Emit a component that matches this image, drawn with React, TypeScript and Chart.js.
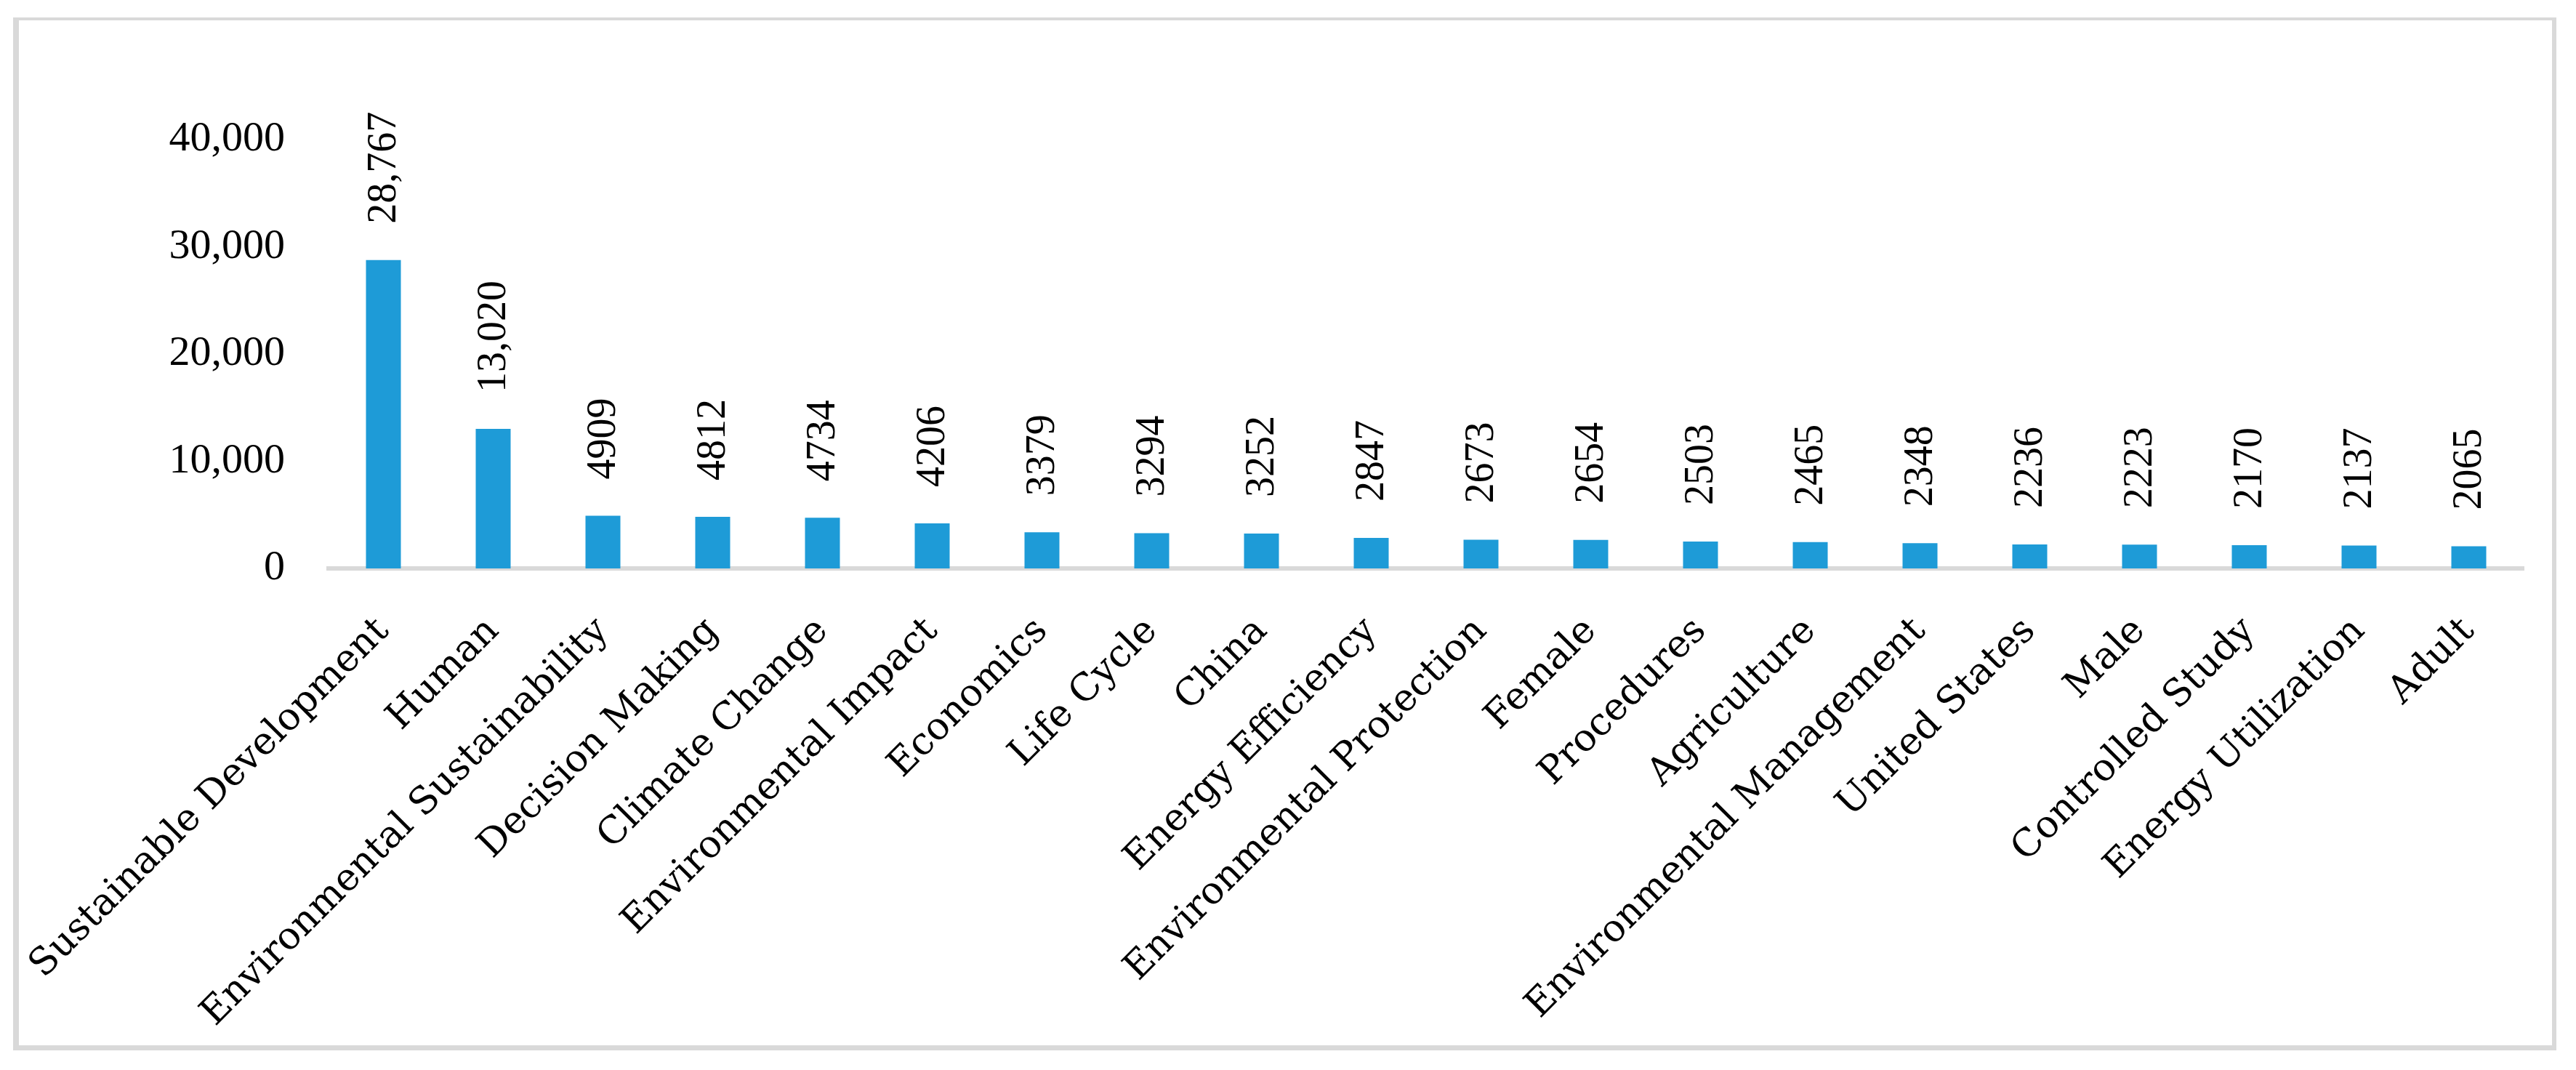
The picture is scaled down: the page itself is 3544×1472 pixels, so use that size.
import React, { useEffect, useRef } from 'react';
import { Chart, registerables } from 'chart.js';

Chart.register(...registerables);

const categories: string[] = [
  'Sustainable Development',
  'Human',
  'Environmental Sustainability',
  'Decision Making',
  'Climate Change',
  'Environmental Impact',
  'Economics',
  'Life Cycle',
  'China',
  'Energy Efficiency',
  'Environmental Protection',
  'Female',
  'Procedures',
  'Agriculture',
  'Environmental Management',
  'United States',
  'Male',
  'Controlled Study',
  'Energy Utilization',
  'Adult',
];

const counts: number[] = [
  28767, 13020, 4909, 4812, 4734, 4206, 3379, 3294, 3252, 2847,
  2673, 2654, 2503, 2465, 2348, 2236, 2223, 2170, 2137, 2065,
];

const yTicks: number[] = [0, 10000, 20000, 30000, 40000];

const BAR_COLOR = '#1E9BD7';
const FRAME_COLOR = '#D9D9D9';
const SERIF = '"Liberation Serif", "Times New Roman", serif';
const WIDE_SERIF = '"DejaVu Serif", "Liberation Serif", serif';

const formatCount = (v: number) => (v >= 10000 ? v.toLocaleString('en-US') : String(v));

export default function App() {
  const ref = useRef<HTMLCanvasElement>(null);

  useEffect(() => {
    const canvas = ref.current;
    if (!canvas) return;

    const framePlugin = {
      id: 'frame',
      beforeDraw(chart: any) {
        const c = chart.ctx;
        c.save();
        c.fillStyle = '#ffffff';
        c.fillRect(0, 0, chart.width, chart.height);
        c.fillStyle = FRAME_COLOR;
        c.fillRect(18, 24, 8, 1421);
        c.fillRect(18, 24, 3499, 4);
        c.fillRect(3511, 24, 6, 1421);
        c.fillRect(18, 1438, 3499, 7);
        c.restore();
      },
    };

    const valueLabels = {
      id: 'valueLabels',
      afterDatasetsDraw(chart: any) {
        const c = chart.ctx;
        const meta = chart.getDatasetMeta(0);
        c.save();
        c.font = `56px ${SERIF}`;
        c.fillStyle = '#000';
        c.textAlign = 'left';
        c.textBaseline = 'middle';
        meta.data.forEach((bar: any, i: number) => {
          const { x, y } = bar.getProps(['x', 'y'], true);
          c.save();
          c.translate(x + 2, y - 50);
          c.rotate(-Math.PI / 2);
          c.fillText(formatCount(counts[i]), 0, 0);
          c.restore();
        });
        c.restore();
      },
    };

    const chart = new Chart(canvas, {
      type: 'bar',
      data: {
        labels: categories,
        datasets: [
          {
            data: counts,
            backgroundColor: BAR_COLOR,
            barPercentage: 0.318,
            categoryPercentage: 1,
          },
        ],
      },
      options: {
        responsive: false,
        devicePixelRatio: 1,
        animation: false,
        layout: { padding: { left: 30, right: 72, top: 192, bottom: 0 } },
        plugins: {
          legend: { display: false },
          tooltip: { enabled: false },
        },
        scales: {
          x: {
            grid: { display: false, drawTicks: false },
            border: { display: true, color: FRAME_COLOR, width: 6 },
            ticks: {
              autoSkip: false,
              minRotation: 45,
              maxRotation: 45,
              padding: 56,
              color: '#000',
              font: { family: WIDE_SERIF, size: 52 },
            },
            afterFit(scale: any) {
              scale.height = 690;
              scale.paddingLeft = 0;
              scale.paddingRight = 0;
            },
          },
          y: {
            min: yTicks[0],
            max: yTicks[yTicks.length - 1],
            grid: { display: false, drawTicks: false },
            border: { display: false },
            ticks: {
              stepSize: yTicks[1] - yTicks[0],
              padding: 60,
              color: '#000',
              font: { family: SERIF, size: 58 },
              callback: (v: any) => Number(v).toLocaleString('en-US'),
            },
            afterFit(scale: any) {
              scale.width = 422;
              scale.paddingTop = 0;
              scale.paddingBottom = 0;
            },
          },
        },
      },
      plugins: [framePlugin, valueLabels],
    });

    return () => chart.destroy();
  }, []);

  return (
    <div style={{ position: 'fixed', left: 0, top: 0, width: 3544, height: 1472, background: '#fff' }}>
      <canvas ref={ref} width={3544} height={1472} style={{ width: 3544, height: 1472, display: 'block' }} />
    </div>
  );
}
